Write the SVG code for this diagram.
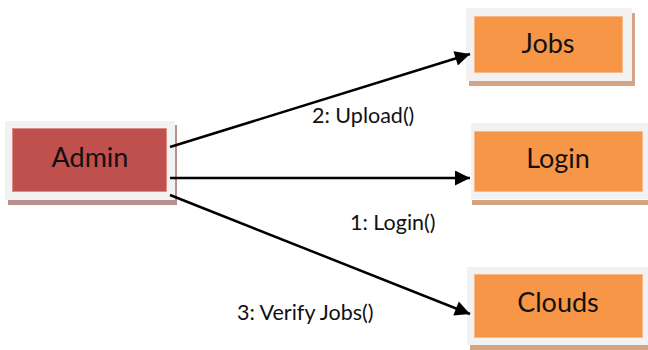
<svg xmlns="http://www.w3.org/2000/svg" width="648" height="350" viewBox="0 0 648 350">
<style>
.outer{fill:#f2f2f2}
.red{fill:#c0504d;stroke:#d98c8a;stroke-width:1}
.org{fill:#f79646;stroke:#fab98a;stroke-width:1}
.shr{fill:#b98f90}
.sho{fill:#d4a585}
.nt{font-family:Lato,"Open Sans",sans-serif;font-size:27px;fill:#111;text-anchor:middle}
.lt{font-family:Lato,"Open Sans",sans-serif;font-size:21.5px;fill:#111}
.ln{stroke:#000;stroke-width:2.5;fill:none;marker-end:url(#ah)}
</style>
<defs>
<marker id="ah" viewBox="0 0 10 10" refX="10" refY="5" markerWidth="7.5" markerHeight="6" markerUnits="strokeWidth" orient="auto">
<path d="M0,0 L10,5 L0,10 z" fill="#000"/>
</marker>
</defs>
<rect width="648" height="350" fill="#fff"/>
<g id="admin">
<rect class="shr" x="8" y="125" width="169" height="80"/>
<rect class="outer" x="5" y="121" width="170" height="79"/>
<rect class="red" x="12.5" y="128.5" width="154" height="63"/>
<text class="nt" x="90" y="167">Admin</text>
</g>
<g id="jobs">
<rect class="sho" x="469" y="13" width="166" height="73"/>
<rect class="outer" x="466" y="8" width="166" height="73"/>
<rect class="org" x="474.5" y="16.5" width="148" height="56"/>
<text class="nt" x="548" y="53">Jobs</text>
</g>
<g id="login">
<rect class="sho" x="472" y="200" width="176" height="5"/>
<rect class="outer" x="471" y="123" width="177" height="76"/>
<rect class="org" x="474.5" y="131.5" width="168" height="60"/>
<text class="nt" x="558" y="168">Login</text>
</g>
<g id="clouds">
<rect class="sho" x="470" y="345" width="178" height="5"/>
<rect class="outer" x="467" y="267" width="181" height="78"/>
<rect class="org" x="474.5" y="274.5" width="168" height="63"/>
<text class="nt" x="558" y="312">Clouds</text>
</g>
<g id="connectors">
<line class="ln" x1="170" y1="147" x2="470" y2="54"/>
<line class="ln" x1="170" y1="178" x2="470" y2="178"/>
<line class="ln" x1="170" y1="195" x2="470" y2="314"/>
<text class="lt" x="312" y="123">2: Upload()</text>
<text class="lt" x="350" y="230">1: Login()</text>
<text class="lt" x="237" y="320">3: Verify Jobs()</text>
</g>
</svg>
